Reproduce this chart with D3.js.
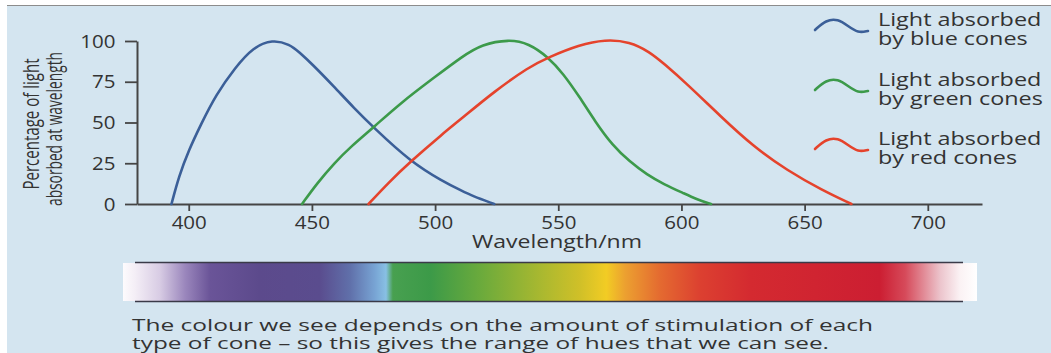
<!DOCTYPE html>
<html>
<head>
<meta charset="utf-8">
<script src="https://cdn.jsdelivr.net/npm/d3@7/dist/d3.min.js"></script>
<style>
  html, body { margin: 0; padding: 0; background: #ffffff; }
  svg { display: block; }
  text { font-family: "Open Sans", "DejaVu Sans", sans-serif; fill: #333333; }
</style>
</head>
<body>
<svg id="chart" width="1051" height="353"></svg>
<script>
// Absorption curves of the three cone types: [wavelength (nm), % absorbed]
const blueCone = [
  [393, 0], [396, 17], [400, 33], [405, 49], [411, 67], [419, 84], [426, 96],
  [434, 101], [441, 98], [445, 93], [450, 86], [459, 72], [467, 59], [475, 47],
  [490, 26], [503, 14], [511, 8], [515, 5], [524, 0]
];
const greenCone = [
  [446, 0], [452, 12.5], [459, 25], [466, 35.5], [475, 47], [486, 62], [500, 78],
  [511, 90.5], [519, 98], [530, 101], [538, 98.6], [546, 90], [552, 80],
  [558.5, 66], [565, 50.5], [572, 36], [579, 26], [586, 18], [593, 12],
  [601, 6.5], [606, 3], [612, 0]
];
const redCone = [
  [473, 0], [481, 13], [490, 26], [503, 43], [511, 52.7], [524, 69], [538, 84],
  [546, 90], [558.5, 97.6], [569, 101], [579, 99.6], [587, 93.4], [593, 86],
  [602, 74], [616, 53.6], [629, 35.5], [643, 20.5], [657, 8.6], [669, 0]
];

const xTicks = [400, 450, 500, 550, 600, 650, 700];
const yTicks = [0, 25, 50, 75, 100];

const legendLines = [
  ["Light absorbed", "by blue cones"],
  ["Light absorbed", "by green cones"],
  ["Light absorbed", "by red cones"]
];
const seriesColors = ["#3b5f98", "#3c9a4a", "#e5432c"];

// Colour spectrum bar: [fraction along bar, colour]
const spectrumStops = [
  [0.000, "#fdfbfd"], [0.014, "#f4eef6"], [0.043, "#d8cce4"], [0.073, "#9a86bc"],
  [0.102, "#6a5498"], [0.160, "#5c4a8c"], [0.230, "#5a4c8e"], [0.266, "#6070aa"],
  [0.295, "#78a4d4"], [0.308, "#88c0e4"], [0.316, "#48a050"], [0.360, "#3c9a48"],
  [0.418, "#6aaa3c"], [0.488, "#a8b830"], [0.535, "#d0c028"], [0.566, "#f2cc24"],
  [0.588, "#eca030"], [0.629, "#e46a30"], [0.676, "#dc4030"], [0.735, "#d42a30"],
  [0.886, "#cc1e32"], [0.916, "#d64a5a"], [0.957, "#ecc4cc"], [0.980, "#fbf2f4"],
  [1.000, "#ffffff"]
];

const captionLines = [
  "The colour we see depends on the amount of stimulation of each",
  "type of cone \u2013 so this gives the range of hues that we can see."
];

const svg = d3.select("#chart");

// page background
svg.append("rect").attr("x", 0).attr("y", 0).attr("width", 1051).attr("height", 353).attr("fill", "#ffffff");
svg.append("rect").attr("x", 7).attr("y", 5).attr("width", 1044).attr("height", 348).attr("fill", "#d4e5f0");
svg.append("line").attr("x1", 7).attr("x2", 1051).attr("y1", 5.5).attr("y2", 5.5)
  .attr("stroke", "#8c8c8c").attr("stroke-width", 1.2);

const x = d3.scaleLinear().domain([379, 722]).range([137, 982]);
const y = d3.scaleLinear().domain([0, 100]).range([204, 41]);

const axisColor = "#454545";

// x axis
const xAxis = svg.append("g")
  .attr("transform", `translate(0,${y(0)})`)
  .call(d3.axisBottom(x).tickValues(xTicks).tickSizeInner(7).tickSizeOuter(0).tickPadding(5));
xAxis.select(".domain").attr("stroke", axisColor).attr("stroke-width", 2);
xAxis.selectAll(".tick line").attr("stroke", axisColor).attr("stroke-width", 1.8);
xAxis.selectAll(".tick text")
  .attr("font-size", 19).attr("fill", "#3a3a3a").attr("font-family", null)
  .attr("transform", "scale(1.08,1)");

// y axis
const yAxis = svg.append("g")
  .attr("transform", `translate(${x(379)},0)`)
  .call(d3.axisLeft(y).tickValues(yTicks).tickSizeInner(12).tickSizeOuter(0).tickPadding(8));
yAxis.select(".domain").attr("stroke", axisColor).attr("stroke-width", 2);
yAxis.selectAll(".tick line").attr("stroke", axisColor).attr("stroke-width", 1.8);
yAxis.selectAll(".tick text")
  .attr("font-size", 19).attr("fill", "#3a3a3a").attr("font-family", null)
  .attr("transform", "scale(1.08,1)");

// axis titles
svg.append("text")
  .attr("x", 557).attr("y", 248).attr("text-anchor", "middle")
  .attr("font-size", 18).attr("textLength", 170).attr("lengthAdjust", "spacingAndGlyphs")
  .text("Wavelength/nm");

const yTitle = [["Percentage of light", 39, 124, 131], ["absorbed at wavelength", 62, 129, 154]];
yTitle.forEach(([t, bx, cy, len]) => {
  svg.append("g")
    .attr("transform", `translate(${bx},${cy}) scale(1.45,1) rotate(-90)`)
    .append("text")
    .attr("text-anchor", "middle").attr("font-size", 15)
    .attr("textLength", len).attr("lengthAdjust", "spacingAndGlyphs")
    .text(t);
});

// absorption curves
const line = d3.line()
  .x(d => x(d[0]))
  .y(d => y(d[1]))
  .curve(d3.curveBasis);

[blueCone, greenCone, redCone].forEach((data, i) => {
  svg.append("path")
    .datum(data)
    .attr("fill", "none")
    .attr("stroke", seriesColors[i])
    .attr("stroke-width", 2.6)
    .attr("stroke-linecap", "round")
    .attr("d", line);
});

// legend
const legendTop = [26, 86, 145];
const wave = d3.line().curve(d3.curveBasis);
legendTop.forEach((ty, i) => {
  const cy = ty;
  const pts = [[815, cy + 4], [826, cy - 6], [838, cy - 7], [848, cy], [858, cy + 7], [868, cy + 5]];
  svg.append("path")
    .attr("d", wave(pts))
    .attr("fill", "none")
    .attr("stroke", seriesColors[i])
    .attr("stroke-width", 2.6)
    .attr("stroke-linecap", "round");
  const g = svg.append("g").attr("transform", `translate(878,0) scale(1.3,1)`);
  g.append("text").attr("x", 0).attr("y", ty).attr("font-size", 18).text(legendLines[i][0]);
  g.append("text").attr("x", 0).attr("y", ty + 19).attr("font-size", 18).text(legendLines[i][1]);
});

// spectrum bar
const defs = svg.append("defs");
const grad = defs.append("linearGradient").attr("id", "spectrum")
  .attr("x1", "0%").attr("x2", "100%").attr("y1", "0%").attr("y2", "0%");
grad.selectAll("stop").data(spectrumStops).join("stop")
  .attr("offset", d => d[0])
  .attr("stop-color", d => d[1]);

svg.append("rect")
  .attr("x", 123).attr("y", 263).attr("width", 854).attr("height", 38)
  .attr("fill", "url(#spectrum)");
[262.5, 301.5].forEach(ly => {
  svg.append("line").attr("x1", 135).attr("x2", 963).attr("y1", ly).attr("y2", ly)
    .attr("stroke", "#3a3a48").attr("stroke-width", 1.5);
});

// caption
const capWidths = [741, 697];
captionLines.forEach((t, i) => {
  svg.append("text")
    .attr("x", 132).attr("y", 331 + i * 18)
    .attr("font-size", 17)
    .attr("textLength", capWidths[i]).attr("lengthAdjust", "spacingAndGlyphs")
    .text(t);
});
</script>
</body>
</html>
